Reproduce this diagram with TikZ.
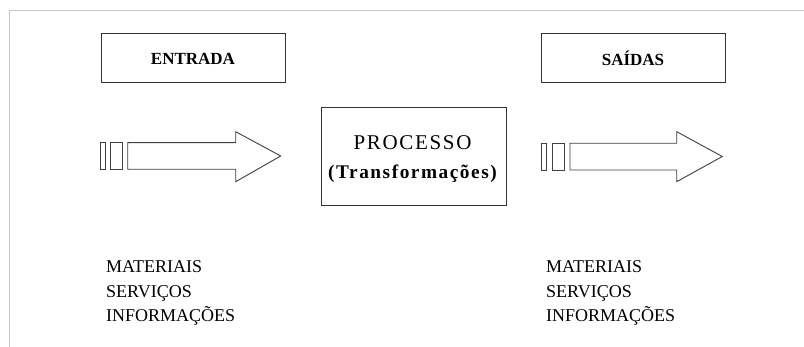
\documentclass[tikz,border=0pt]{standalone}
\usepackage{fontspec}
\setmainfont{Liberation Serif}
\newfontfamily\spacedserif[LetterSpace=8]{Liberation Serif}
\begin{document}
\begin{tikzpicture}[x=1pt,y=-1pt,
  framerule/.style={draw=black!22, line width=1pt},
  labelbox/.style={draw=black!80, line width=1pt, fill=white, inner sep=0pt,
    minimum width=184pt, minimum height=49pt,
    font=\fontsize{17}{20}\selectfont\bfseries},
  procbox/.style={draw=black!80, line width=1pt, fill=white, inner sep=0pt,
    minimum width=185pt, minimum height=98pt},
  flowarrow/.style={draw=black!75, line width=0.9pt, fill=white, line join=miter},
  itemtext/.style={anchor=base west, inner sep=0pt,
    font=\fontsize{18}{22}\selectfont}
]
  \useasboundingbox (0,0) rectangle (804,347);
  \fill[white] (0,0) rectangle (804,347);

  % outer frame (top and left edges)
  \draw[framerule] (9.5,347) -- (9.5,10.5) -- (804,10.5);

  % header boxes
  \node[labelbox] (entrada) at (193,58.5) {ENTRADA};
  \node[labelbox] (saidas) at (633,58.5) {SAÍDAS};

  % central process box
  \node[procbox] (processo) at (413.5,157) {};
  \node[inner sep=0pt, anchor=base] (proctitle) at (412.5,150)
    {\spacedserif\fontsize{21}{24}\selectfont PROCESSO};
  \node[inner sep=0pt, anchor=base] (procsub) at (412.5,179)
    {\spacedserif\bfseries\fontsize{19.3}{22}\selectfont (Transformações)};

  % input block arrow with tail bars
  \draw[flowarrow] (100.7,142.7) rectangle (105.7,169.3);
  \draw[flowarrow] (110.7,142.7) rectangle (122.7,169.3);
  \draw[flowarrow] (127.7,142.7) -- (235.7,142.7) -- (235.7,131.7)
    -- (280.7,156) -- (235.7,181.7) -- (235.7,169.3) -- (127.7,169.3) -- cycle;

  % output block arrow with tail bars
  \draw[flowarrow] (541.7,143.3) rectangle (546.7,170);
  \draw[flowarrow] (552.7,143.3) rectangle (564.3,170);
  \draw[flowarrow] (570,143.3) -- (676.7,143.3) -- (676.7,131.7)
    -- (722.3,156.5) -- (676.7,181.7) -- (676.7,170) -- (570,170) -- cycle;

  % resource lists
  \node[itemtext] (inmat) at (106,273) {MATERIAIS};
  \node[itemtext] (inserv) at (106,297.5) {SERVIÇOS};
  \node[itemtext] (ininfo) at (106,321.5) {INFORMAÇÕES};
  \node[itemtext] (outmat) at (546,273) {MATERIAIS};
  \node[itemtext] (outserv) at (546,297.5) {SERVIÇOS};
  \node[itemtext] (outinfo) at (546,321.5) {INFORMAÇÕES};
\end{tikzpicture}
\end{document}
